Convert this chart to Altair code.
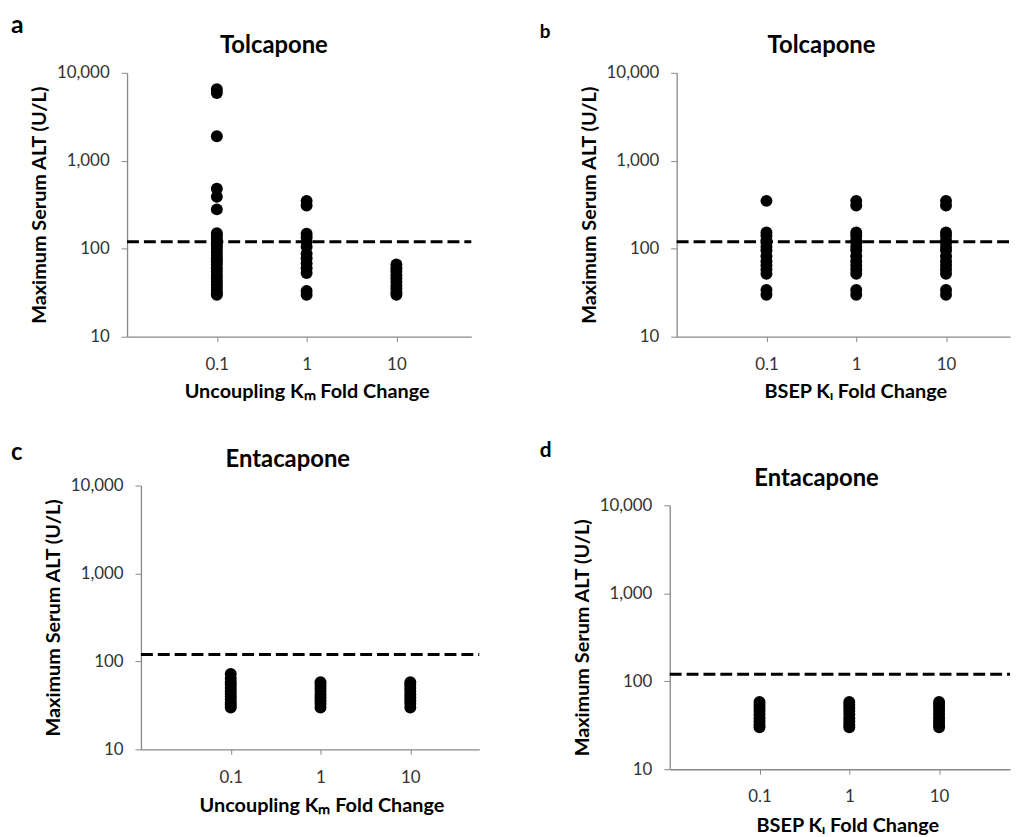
import altair as alt
import pandas as pd

FONT = "Lato"

# ---- data (Maximum serum ALT, U/L) ----
fold = [0.1, 1, 10]
threshold = [120]
y_ticks = [10, 100, 1000, 10000]

# a: Tolcapone, uncoupling Km fold change
a_f01 = [6500, 5900, 1900, 480, 390, 280, 150, 140, 130, 122, 115, 108, 100, 92, 85,
         78, 72, 66, 60, 55, 50, 46, 42, 39, 36, 33, 31, 30]
a_f1 = [350, 310, 148, 135, 120, 105, 88, 78, 68, 60, 53, 33, 30]
a_f10 = [66, 60, 55, 50, 46, 42, 38, 35, 32, 30]

# b: Tolcapone, BSEP Ki fold change
b_f01 = [350, 153, 140, 125, 118, 105, 96, 82, 72, 65, 58, 52, 34, 30]
b_f1 = [350, 310, 153, 140, 125, 118, 105, 96, 82, 72, 65, 58, 52, 34, 30]
b_f10 = [350, 310, 153, 140, 125, 118, 105, 96, 82, 72, 65, 58, 52, 34, 30]

# c: Entacapone, uncoupling Km fold change
c_f01 = [72, 64, 58, 54, 50, 46, 43, 40, 37, 34, 32, 30]
c_f1 = [58, 54, 50, 46, 42, 39, 36, 33, 30]
c_f10 = [58, 54, 50, 46, 42, 39, 36, 33, 30]

# d: Entacapone, BSEP Ki fold change
d_f01 = [58, 54, 50, 46, 42, 38, 35, 32, 30]
d_f1 = [58, 54, 50, 46, 42, 38, 35, 32, 30]
d_f10 = [58, 54, 50, 46, 42, 38, 35, 32, 30]

Y_TITLE = "Maximum Serum ALT (U/L)"
KM_TITLE = "Uncoupling K\u2098 Fold Change"
KI_TITLE = "BSEP K\u1d62 Fold Change"

W, H = 1012, 829   # whole drawing area (page minus 8px margin)
PX_PER_DECADE = 90.5


def txt(s, x, y, fs, align="left"):
    return alt.Chart(pd.DataFrame({"t": [s]})).mark_text(
        font=FONT, fontSize=fs, fontWeight="bold", align=align,
        baseline="alphabetic", color="black"
    ).encode(text="t:N", x=alt.value(x), y=alt.value(y))


def panel(cols, xr, yr, xtitle, xtitle_x, xtitle_dy):
    rows = [{"fold": f, "alt": v} for f, vals in zip(fold, cols) for v in vals]
    df = pd.DataFrame(rows)
    xmax = 0.01 * 10 ** ((xr[1] - xr[0]) / PX_PER_DECADE)
    xs = alt.Scale(type="log", domain=[0.01, xmax], range=list(xr), nice=False)
    ys = alt.Scale(type="log", domain=[10, 10000], range=[yr[1], yr[0]], nice=False)
    xaxis = alt.Axis(orient="bottom", offset=-(H - yr[1]), values=fold, format="~g",
                     title=xtitle, titleX=xtitle_x, titleY=xtitle_dy,
                     titleBaseline="alphabetic", titleAlign="center",
                     tickSize=5, labelPadding=15)
    yaxis = alt.Axis(orient="left", offset=-xr[0], values=y_ticks, format=",",
                     title=Y_TITLE, titleX=-82, titleY=(yr[0] + yr[1]) / 2,
                     titleBaseline="alphabetic", titleAlign="center", titleAngle=270,
                     tickSize=6, labelPadding=12)
    pts = alt.Chart(df).mark_circle(size=145, color="black", opacity=1).encode(
        x=alt.X("fold:Q", scale=xs, axis=xaxis),
        y=alt.Y("alt:Q", scale=ys, axis=yaxis),
    )
    rdf = pd.DataFrame({"fold": [0.01], "fold_end": [xmax], "alt": threshold})
    rule = alt.Chart(rdf).mark_rule(color="black", strokeWidth=3, strokeDash=[12, 5]).encode(
        x=alt.X("fold:Q", scale=xs, axis=xaxis),
        x2="fold_end:Q",
        y=alt.Y("alt:Q", scale=ys, axis=yaxis),
    )
    return alt.layer(rule, pts)


# plot rectangles in drawing coordinates: x range (left, right), y range (top, bottom)
A = panel([a_f01, a_f1, a_f10], (120, 467), (62, 328), KM_TITLE, 301, 61)
B = panel([b_f01, b_f1, b_f10], (674, 1010), (62, 328), KI_TITLE, 854, 61)
C = panel([c_f01, c_f1, c_f10], (134, 475), (478, 744), KM_TITLE, 316, 63)
D = panel([d_f01, d_f1, d_f10], (667, 1010), (498, 764), KI_TITLE, 846, 63)

texts = [
    txt("a", 3, 22, 25), txt("b", 536, 27, 19), txt("c", 3, 452, 24), txt("d", 536, 449, 21),
    txt("Tolcapone", 268, 42, 24, align="center"),
    txt("Tolcapone", 820, 42, 24, align="center"),
    txt("Entacapone", 282, 459, 24, align="center"),
    txt("Entacapone", 815, 479, 24, align="center"),
]

chart = alt.layer(A, B, C, D, *texts).resolve_scale(
    x="independent", y="independent"
).resolve_axis(
    x="independent", y="independent"
).properties(
    width=W, height=H,
    autosize=alt.AutoSizeParams(type="none"),
    padding={"left": 0, "top": 0, "right": 0, "bottom": 0},
).configure_view(stroke=None).configure_axis(
    grid=False, domainColor="#888888", tickColor="#888888", domainWidth=1.3,
    labelColor="#333333", labelFont=FONT, labelFontSize=17,
    titleFont=FONT, titleFontSize=20, titleFontWeight="bold", titleColor="black",
)

chart.save("out.html", embed_options={"renderer": "svg", "actions": False})
